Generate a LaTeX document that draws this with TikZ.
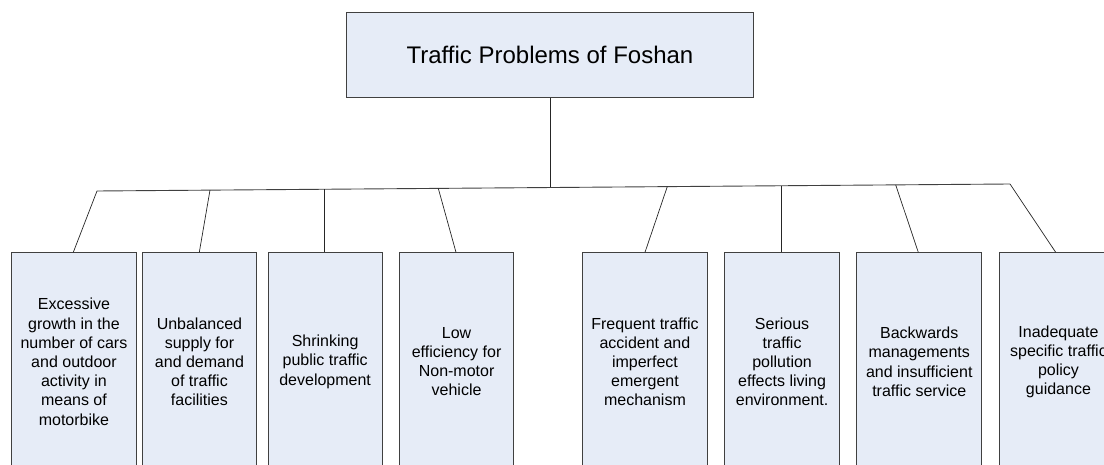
\documentclass[tikz,border=0pt]{standalone}
\usepackage{fontspec}
\setmainfont{Liberation Sans}
\definecolor{boxfill}{RGB}{230,236,247}
\definecolor{boxline}{RGB}{64,64,64}
\tikzset{
  topbox/.style={draw=boxline, fill=boxfill, line width=0.9pt, anchor=north west, inner sep=0pt,
    font=\fontsize{24}{28}\selectfont},
  probbox/.style={draw=boxline, fill=boxfill, line width=0.9pt, anchor=north west, inner sep=0pt,
    minimum height=218pt, align=center, font=\fontsize{16}{19.2}\selectfont},
  conn/.style={draw=black!85, line width=0.7pt},
  bar/.style={draw=black!75, line width=0.9pt}
}
\begin{document}
\begin{tikzpicture}[x=1pt,y=-1pt]
\useasboundingbox (0,0) rectangle (1104,465);
\clip (0,0) rectangle (1104,465);
% root
\node[topbox, minimum width=407pt, minimum height=85.3pt] (root) at (346,11.7) {Traffic Problems of Foshan};
% problem boxes
\node[probbox, minimum width=125.6pt] (p1) at (10.7,252.3) {Excessive\\growth in the\\number of cars\\and outdoor\\activity in\\means of\\motorbike};
\node[probbox, minimum width=114.6pt] (p2) at (141.7,252.3) {Unbalanced\\supply for\\and demand\\of traffic\\facilities};
\node[probbox, minimum width=114pt] (p3) at (267.7,252.3) {Shrinking\\public traffic\\development};
\node[probbox, minimum width=114.3pt] (p4) at (399,252.3) {Low\\efficiency for\\Non-motor\\vehicle};
\node[probbox, minimum width=125.6pt] (p5) at (581.7,252.3) {Frequent traffic\\accident and\\imperfect\\emergent\\mechanism};
\node[probbox, minimum width=114.7pt] (p6) at (724.3,252.3) {Serious\\traffic\\pollution\\effects living\\environment.};
\node[probbox, minimum width=125pt] (p7) at (856.3,252.3) {Backwards\\managements\\and insufficient\\traffic service};
\node[probbox, minimum width=118.6pt] (p8) at (998.7,252.3) {Inadequate\\specific traffic\\policy\\guidance};
% bar coordinates
\coordinate (bL) at (97,191);
\coordinate (bR) at (1010,184);
\coordinate (b2) at (210,190.1);
\coordinate (b3) at (324.3,189.3);
\coordinate (b4) at (438.3,188.4);
\coordinate (bm) at (550,187.5);
\coordinate (b5) at (667.3,186.6);
\coordinate (b6) at (781.7,185.75);
\coordinate (b7) at (895.7,184.9);
% lower ends on box tops
\coordinate (t1) at (73.3,252.3);
\coordinate (t2) at (199.3,252.3);
\coordinate (t4) at (456,252.3);
\coordinate (t5) at (645,252.3);
\coordinate (t7) at (918.3,252.3);
\coordinate (t8) at (1055.7,252.3);
% connectors
\draw[bar] (bL) -- (bR);
\draw[conn] (root.south -| bm) -- (bm);
\draw[conn] (bL) -- (t1);
\draw[conn] (b2) -- (t2);
\draw[conn] (b3) -- (b3 |- p3.north);
\draw[conn] (b4) -- (t4);
\draw[conn] (b5) -- (t5);
\draw[conn] (b6) -- (b6 |- p6.north);
\draw[conn] (b7) -- (t7);
\draw[conn] (bR) -- (t8);
\end{tikzpicture}
\end{document}
